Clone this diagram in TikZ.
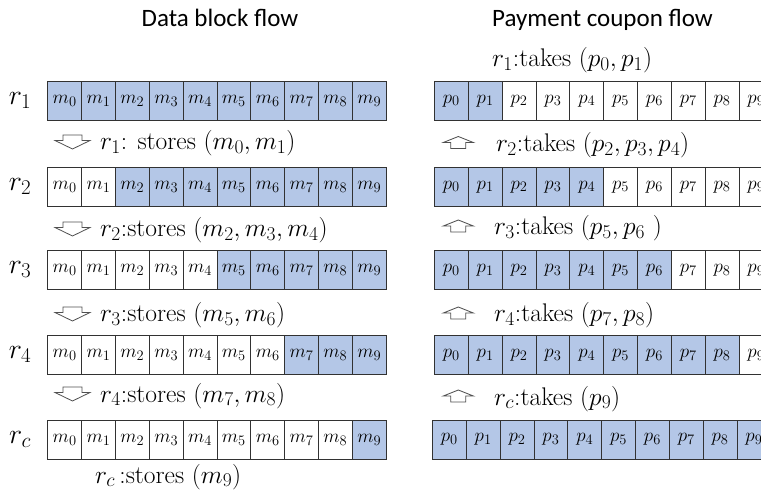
\RequirePackage{fix-cm}
\documentclass[tikz,border=0pt]{standalone}
\usepackage{fontspec}
\newfontfamily\titlefont{Carlito}
\DeclareMathSizes{25.5}{25.5}{19.5}{15}
\DeclareMathSizes{19}{19}{14.5}{11}
\DeclareMathSizes{28}{28}{21}{16}
\definecolor{cellblue}{RGB}{180,199,231}
\definecolor{cellline}{RGB}{50,50,50}
\definecolor{arrowline}{RGB}{80,80,80}
\tikzset{
  cell/.style={draw=cellline, line width=0.9pt, minimum width=33.84pt, minimum height=39.4pt,
    inner sep=0pt, font=\fontsize{19}{19}\selectfont, anchor=north west},
  title/.style={font=\titlefont\fontsize{25}{25}\selectfont, anchor=base, inner sep=0pt},
  lbl/.style={font=\fontsize{25.5}{25.5}\selectfont, anchor=base west, inner sep=0pt},
  rowlbl/.style={font=\fontsize{28}{28}\selectfont, inner sep=0pt},
  harrow/.style={draw=arrowline, line width=0.8pt, fill=white, line join=miter},
  downarr/.pic={\draw[harrow] (-9.5,-7) -- (9.5,-7) -- (9.5,-1.5) -- (17.5,-1.5) -- (0,7)
      -- (-17.5,-1.5) -- (-9.5,-1.5) -- cycle;},
  uparr/.pic={\draw[harrow] (0,-6) -- (15,0) -- (7.5,0) -- (7.5,6) -- (-7.5,6) -- (-7.5,0)
      -- (-15,0) -- cycle;}
}
\begin{document}
\begin{tikzpicture}[x=1pt,y=-1pt]
\useasboundingbox (0,0) rectangle (761,497);
\clip (0,0) rectangle (761,497);
\fill[white] (0,0) rectangle (761,497);
% titles
\node[title] (T1) at (220,26.7) {Data block flow};
\node[title] (T2) at (602.5,26.7) {Payment coupon flow};
% rows
\foreach \rw/\ty/\nl/\nr/\rx in {1/80.7/0/2/434, 2/166.7/2/5/434, 3/250/5/7/434, 4/335/7/9/434, c/419.5/9/10/432}{
  \node[rowlbl] (R\rw) at (20,\ty+19.7) {$r_{\rw}$};
  \foreach \i in {0,...,9}{
    \ifnum\i<\nl\relax\def\fl{white}\else\def\fl{cellblue}\fi
    \ifnum\i<\nr\relax\def\fr{cellblue}\else\def\fr{white}\fi
    \node[cell, fill=\fl] (L\rw-\i) at ({47.3+33.84*\i},\ty) {$m_{\i}$};
    \node[cell, fill=\fr] (P\rw-\i) at ({\rx+33.84*\i},\ty) {$p_{\i}$};
  }
}
% left labels
\node[lbl] (s1) at (100,150) {$r_1$: stores $(m_0, m_1)$};
\node[lbl] (s2) at (100,237) {$r_2$:stores $(m_2, m_3, m_4)$};
\node[lbl] (s3) at (100,322) {$r_3$:stores $(m_5, m_6)$};
\node[lbl] (s4) at (100,402) {$r_4$:stores $(m_7, m_8)$};
\node[lbl] (sc) at (95,483) {$r_c$\,:stores $(m_9)$};
% right labels
\node[lbl] (t1) at (492,67) {$r_1$:takes $(p_0, p_1)$};
\node[lbl] (t2) at (496,152) {$r_2$:takes $(p_2, p_3, p_4)$};
\node[lbl] (t3) at (494,235) {$r_3$:takes $(p_5, p_6\ )$};
\node[lbl] (t4) at (494,322) {$r_4$:takes $(p_7, p_8)$};
\node[lbl] (tc) at (494,405) {$r_c$:takes $(p_9)$};
% hollow arrows
\pic at (72.5,142) {downarr};
\pic at (72.5,229) {downarr};
\pic at (72.5,314) {downarr};
\pic at (72.5,394) {downarr};
\pic at (458.3,142.5) {uparr};
\pic at (458.3,226) {uparr};
\pic at (458.3,313) {uparr};
\pic at (458.3,396) {uparr};
\end{tikzpicture}
\end{document}
